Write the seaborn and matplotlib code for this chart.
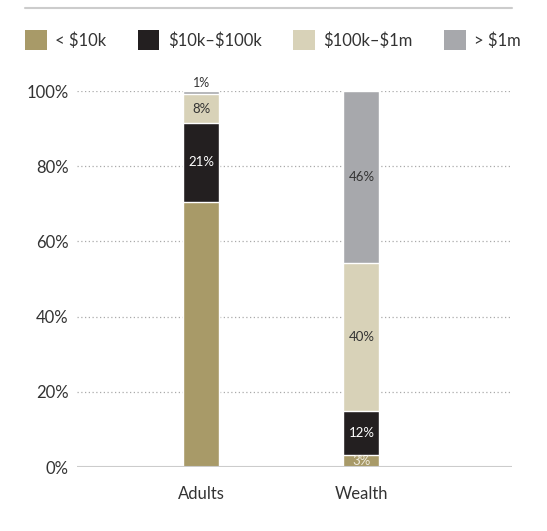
import matplotlib
matplotlib.use("Agg")
import matplotlib.pyplot as plt
import seaborn as sns
import numpy as np
from matplotlib.patches import Patch
from matplotlib.lines import Line2D

categories = ["Adults", "Wealth"]
bands = ["< \\$10k", "\\$10k\u2013\\$100k", "\\$100k\u2013\\$1m", "> \\$1m"]
adults = [70.5, 21.0, 7.6, 0.9]
wealth = [3.3, 11.6, 39.4, 45.7]
shown_labels = {
    "Adults": ["", "21%", "8%", "1%"],
    "Wealth": ["3%", "12%", "40%", "46%"],
}
colors = ["#A89A68", "#231F20", "#D8D2B8", "#A7A8AC"]
label_colors = ["#F0EBDD", "white", "#333333", "#333333"]
yticks = [0, 20, 40, 60, 80, 100]
ytick_labels = ["0%", "20%", "40%", "60%", "80%", "100%"]

sns.set_theme(style="white")
plt.rcParams["font.family"] = ["Lato", "DejaVu Sans"]
text_color = "#333333"

fig = plt.figure(figsize=(5.47, 5.31), dpi=100)
ax = fig.add_axes([77 / 547, 1 - 467 / 531, (512 - 77) / 547, (467 - 91) / 531])

values = np.array([adults, wealth])  # rows: categories, cols: bands
cum = np.cumsum(values, axis=1)

# draw cumulative bars from top band down
for j in range(len(bands) - 1, -1, -1):
    sns.barplot(x=categories, y=cum[:, j], color=colors[j], saturation=1,
                width=0.225, edgecolor="white", linewidth=1.0, ax=ax, zorder=3)

# segment labels
for i, cat in enumerate(categories):
    for j in range(len(bands)):
        lab = shown_labels[cat][j]
        if not lab:
            continue
        bottom = cum[i, j] - values[i, j]
        mid = bottom + values[i, j] / 2
        if values[i, j] < 3:
            ax.text(i, cum[i, j] + 0.6, lab, ha="center", va="bottom",
                    fontsize=9, color=text_color, zorder=5, clip_on=False)
        else:
            ax.text(i, mid, lab, ha="center", va="center", fontsize=9.5,
                    color=label_colors[j], zorder=5)

ax.set_xlim(-0.775, 1.94)
ax.set_ylim(0, 100)
ax.set_yticks(yticks)
ax.set_yticklabels(ytick_labels)
ax.set_xlabel("")
ax.set_ylabel("")

for y in yticks[1:]:
    ax.axhline(y, color="#AAAAAA", linestyle=(0, (1, 2)), linewidth=0.9, zorder=1)
ax.axhline(0, color="#CCCCCC", linewidth=1.5, zorder=4)

for s in ax.spines.values():
    s.set_visible(False)
ax.tick_params(axis="y", length=0, pad=6, labelsize=12, labelcolor=text_color)
ax.tick_params(axis="x", length=0, pad=14, labelsize=12, labelcolor=text_color)

# top rule
fig.add_artist(Line2D([25 / 547, 512 / 547], [1 - 8 / 531, 1 - 8 / 531],
                      color="#CCCCCC", linewidth=1.5, transform=fig.transFigure))

handles = [Patch(facecolor=c, edgecolor="none") for c in colors]
fig.legend(handles, bands, loc="center left",
           bbox_to_anchor=(25 / 547, 1 - 40 / 531), ncol=4, frameon=False,
           fontsize=12, handlelength=1.3, handleheight=1.5,
           handletextpad=0.5, columnspacing=1.9, borderpad=0,
           borderaxespad=0, labelcolor=text_color)

fig.savefig("out.png", dpi=100)
